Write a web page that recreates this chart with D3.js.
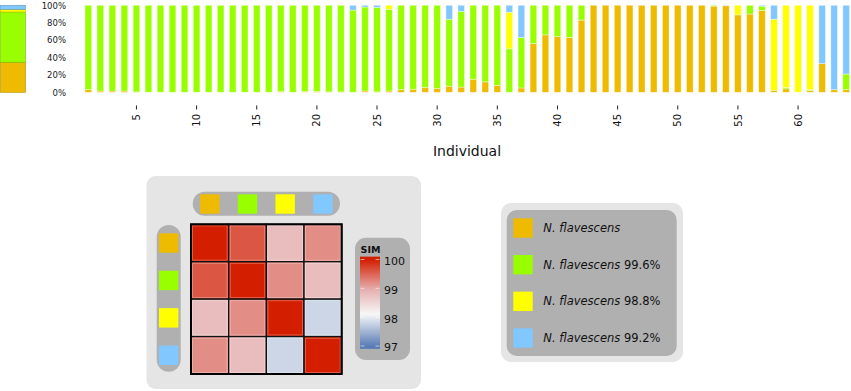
<!DOCTYPE html>
<html>
<head>
<meta charset="utf-8">
<script src="https://cdn.jsdelivr.net/npm/d3@7"></script>
<style>
  body { margin: 0; background: #fff; }
  svg { display: block; font-family: "DejaVu Sans", sans-serif; }
</style>
</head>
<body>
<div id="chart"></div>
<script>
// ancestry shares per individual (%), bottom to top: orange, green, yellow, blue
const orange = [3,1.5,1.5,1.5,0.5,0,0,0,0,0, 0,0,0,0,0,0,0.8,0,1,1,
  0.5,0.5,0,1.5,0.5,1.5,3,3.5,5.5,4.5, 7,6,15,12,8,0,5,56,66,64,
  63,83,100,100,100,100,100,100,100,100, 100,100,99,99.5,89,90,94,2,4,0,
  2,33,3,3];
const green = [97,98.5,98.5,98.5,99.5,100,100,100,100,100, 100,100,100,100,100,100,99.2,100,99,99,
  99.5,99.5,94.5,96.5,97,94,97,96.5,94.5,95.5, 77,87,85,88,92,50,58,44,34,36,
  37,17,0,0,0,0,0,0,0,0, 0,0,1,0,0,10,5,0,1.5,0,
  1,0,0,18];
const yellow = [0,0,0,0,0,0,0,0,0,0, 0,0,0,0,0,0,0,0,0,0,
  0,0,0,0,0,4.5,0,0,0,0, 0,0,0,0,0,42,0,0,0,0,
  0,0,0,0,0,0,0,0,0,0, 0,0,0,0,11,0,0,82,94.5,100,
  97,0,0,0];
const blue = [0,0,0,0,0,0,0,0,0,0, 0,0,0,0,0,0,0,0,0,0,
  0,0,5.5,2,2.5,0,0,0,0,0, 16,7,0,0,0,8,37,0,0,0,
  0,0,0,0,0,0,0,0,0,0, 0,0,0,0.5,0,0,1,16,0,0,
  0,67,97,79];
// population average bar
const avgShares = [34.6, 57.7, 3.1, 4.6];

const groups = ["orange", "green", "yellow", "blue"];
const groupColors = ["#eebb00", "#99ff00", "#ffff00", "#80c8ff"];
const xTicks = [5, 10, 15, 20, 25, 30, 35, 40, 45, 50, 55, 60];
const yTicks = [0, 20, 40, 60, 80, 100];

const legendNames = ["N. flavescens", "N. flavescens", "N. flavescens", "N. flavescens"];
const legendPct = ["", "99.6%", "98.8%", "99.2%"];

// pairwise similarity between groups
const simRows = [
  [100, 99.6, 98.8, 99.2],
  [99.6, 100, 99.2, 98.8],
  [98.8, 99.2, 100, 97.8],
  [99.2, 98.8, 97.8, 100]
];
const simTicks = [97, 98, 99, 100];

const W = 851, H = 391;
const svg = d3.select("#chart").append("svg").attr("width", W).attr("height", H);

const color = d3.scaleOrdinal().domain(groups).range(groupColors);

// ---- structure bar plot ----
const ids = d3.range(1, orange.length + 1);
const rows = ids.map((id, i) => ({ id, orange: orange[i], green: green[i], yellow: yellow[i], blue: blue[i] }));
const series = d3.stack().keys(groups)(rows);

const x = d3.scaleBand().domain(ids).range([79.6, 854.9]).paddingInner(0.45).paddingOuter(0.45);
const y = d3.scaleLinear().domain([0, 100]).range([92.3, 5.3]);

svg.append("g").selectAll("g")
  .data(series)
  .join("g")
  .attr("fill", d => color(d.key))
  .selectAll("rect")
  .data(d => d.filter(s => s[1] - s[0] > 0))
  .join("rect")
  .attr("x", d => x(d.data.id))
  .attr("width", x.bandwidth())
  .attr("y", d => y(d[1]))
  .attr("height", d => y(d[0]) - y(d[1]))
  .attr("stroke", "#fff")
  .attr("stroke-opacity", 0.45)
  .attr("stroke-width", 0.8);

// average bar on the far left
const avgRow = [{ id: "all", orange: avgShares[0], green: avgShares[1], yellow: avgShares[2], blue: avgShares[3] }];
const avgSeries = d3.stack().keys(groups)(avgRow);
const xAvg = d3.scaleBand().domain(["all"]).range([0.5, 25.5]);
svg.append("g").selectAll("rect")
  .data(avgSeries)
  .join("rect")
  .attr("x", xAvg("all"))
  .attr("width", xAvg.bandwidth())
  .attr("y", d => y(d[0][1]))
  .attr("height", d => y(d[0][0]) - y(d[0][1]))
  .attr("fill", d => color(d.key))
  .attr("stroke", d => d3.color(color(d.key)).darker(0.8))
  .attr("stroke-width", 0.6);

const yAxis = svg.append("g")
  .attr("transform", "translate(66,0)")
  .call(d3.axisLeft(y).tickValues(yTicks).tickFormat(d => d + "%").tickSize(0).tickPadding(0));
yAxis.select(".domain").remove();
yAxis.selectAll("text").attr("font-size", 8.5).attr("fill", "#222").attr("font-family", "DejaVu Sans");

const xAxis = svg.append("g")
  .attr("transform", "translate(0,105.5)")
  .call(d3.axisBottom(x).tickValues(xTicks).tickSize(4));
xAxis.select(".domain").remove();
xAxis.selectAll("line").attr("stroke", "#222");
xAxis.selectAll("text")
  .attr("transform", "rotate(-90)")
  .attr("text-anchor", "end")
  .attr("x", -8.5).attr("y", 0).attr("dy", "0.36em")
  .attr("font-size", 10).attr("fill", "#111").attr("font-family", "DejaVu Sans");

svg.append("text")
  .attr("x", 467).attr("y", 155.5)
  .attr("text-anchor", "middle")
  .attr("font-size", 14).attr("fill", "#111")
  .text("Individual");

// ---- similarity heatmap panel ----
const hm = svg.append("g");
hm.append("rect").attr("x", 146.5).attr("y", 176).attr("width", 274.5).attr("height", 213)
  .attr("rx", 9).attr("fill", "#e5e5e5");

const cx = d3.scaleBand().domain(d3.range(4)).range([191, 341.7]);
const cy = d3.scaleBand().domain(d3.range(4)).range([224.3, 374]);

const sim = d3.scaleLinear().domain([97, 98.1, 98.95, 100])
  .range(["#5a7db7", "#f7f7f7", "#e6b0b0", "#d41e00"]);

// column / row key strips
hm.append("rect").attr("x", 192.7).attr("y", 191.7).attr("width", 147.3).attr("height", 24)
  .attr("rx", 12).attr("fill", "#b0b0b0");
hm.append("rect").attr("x", 156.7).attr("y", 225).attr("width", 24).attr("height", 146.7)
  .attr("rx", 12).attr("fill", "#b0b0b0");

hm.append("g").selectAll("rect")
  .data(groups)
  .join("rect")
  .attr("x", (d, i) => cx(i) + cx.bandwidth() / 2 - 9.7)
  .attr("y", 194.3)
  .attr("width", 19.4).attr("height", 19.4)
  .attr("fill", d => color(d));

hm.append("g").selectAll("rect")
  .data(groups)
  .join("rect")
  .attr("x", 159)
  .attr("y", (d, i) => cy(i) + cy.bandwidth() / 2 - 9.7)
  .attr("width", 19.4).attr("height", 19.4)
  .attr("fill", d => color(d));

const cells = simRows.flatMap((r, i) => r.map((v, j) => ({ i, j, v })));
hm.append("g").selectAll("rect")
  .data(cells)
  .join("rect")
  .attr("x", d => cx(d.j))
  .attr("y", d => cy(d.i))
  .attr("width", cx.bandwidth())
  .attr("height", cy.bandwidth())
  .attr("fill", d => sim(d.v))
  .attr("stroke", "#111")
  .attr("stroke-width", 1.3);
hm.append("g").selectAll("rect")
  .data(cells)
  .join("rect")
  .attr("x", d => cx(d.j) + 1.6)
  .attr("y", d => cy(d.i) + 1.6)
  .attr("width", cx.bandwidth() - 3.2)
  .attr("height", cy.bandwidth() - 3.2)
  .attr("fill", "none")
  .attr("stroke", "#fff")
  .attr("stroke-opacity", 0.35)
  .attr("stroke-width", 0.8);
hm.append("rect")
  .attr("x", 191).attr("y", 224.3)
  .attr("width", 150.7).attr("height", 149.7)
  .attr("fill", "none").attr("stroke", "#000").attr("stroke-width", 2);

// colour bar
hm.append("rect").attr("x", 355).attr("y", 237.7).attr("width", 55).attr("height", 122.3)
  .attr("rx", 11).attr("fill", "#b0b0b0");
hm.append("text").attr("x", 370.5).attr("y", 252.5).attr("text-anchor", "middle")
  .attr("font-size", 9.5).attr("font-weight", "bold").attr("fill", "#111").text("SIM");

const cb = d3.scaleLinear().domain([97, 100]).range([346, 259.5]);
const defs = svg.append("defs");
const grad = defs.append("linearGradient").attr("id", "simgrad")
  .attr("x1", 0).attr("y1", 1).attr("x2", 0).attr("y2", 0);
d3.range(96.9, 100.1001, 0.1).forEach((v, k, arr) => {
  grad.append("stop")
    .attr("offset", k / (arr.length - 1))
    .attr("stop-color", sim(Math.max(97, Math.min(100, v))));
});
hm.append("rect").attr("x", 360).attr("y", cb(100.1)).attr("width", 20)
  .attr("height", cb(96.9) - cb(100.1)).attr("fill", "url(#simgrad)");

hm.append("g").selectAll("line")
  .data(simTicks.flatMap(t => [[t, 360.5], [t, 375.5]]))
  .join("line")
  .attr("x1", d => d[1]).attr("x2", d => d[1] + 4)
  .attr("y1", d => cb(d[0])).attr("y2", d => cb(d[0]))
  .attr("stroke", "#fff").attr("stroke-opacity", 0.7).attr("stroke-width", 0.8);

hm.append("g").selectAll("text")
  .data(simTicks)
  .join("text")
  .attr("x", 384)
  .attr("y", d => cb(d) + 1.5)
  .attr("dy", "0.36em")
  .attr("font-size", 11).attr("fill", "#111")
  .text(d => d);

// ---- legend ----
const lg = svg.append("g");
lg.append("rect").attr("x", 501).attr("y", 203).attr("width", 182).attr("height", 159)
  .attr("rx", 10).attr("fill", "#e5e5e5");
lg.append("rect").attr("x", 506.7).attr("y", 210).attr("width", 170).attr("height", 146)
  .attr("rx", 10).attr("fill", "#b0b0b0");

const ly = d3.scalePoint().domain(d3.range(4)).range([228, 338]);
const items = lg.selectAll("g.item")
  .data(groups)
  .join("g")
  .attr("class", "item")
  .attr("transform", (d, i) => `translate(0,${ly(i)})`);
items.append("rect")
  .attr("x", 513.3).attr("y", -9.7)
  .attr("width", 19.4).attr("height", 19.4)
  .attr("fill", d => color(d));
const lt = items.append("text")
  .attr("x", 543.3).attr("dy", "0.36em")
  .attr("font-size", 11.5).attr("fill", "#111");
lt.append("tspan").attr("font-style", "italic").text((d, i) => legendNames[i]);
lt.append("tspan").text((d, i) => legendPct[i] ? " " + legendPct[i] : "");
</script>
</body>
</html>
